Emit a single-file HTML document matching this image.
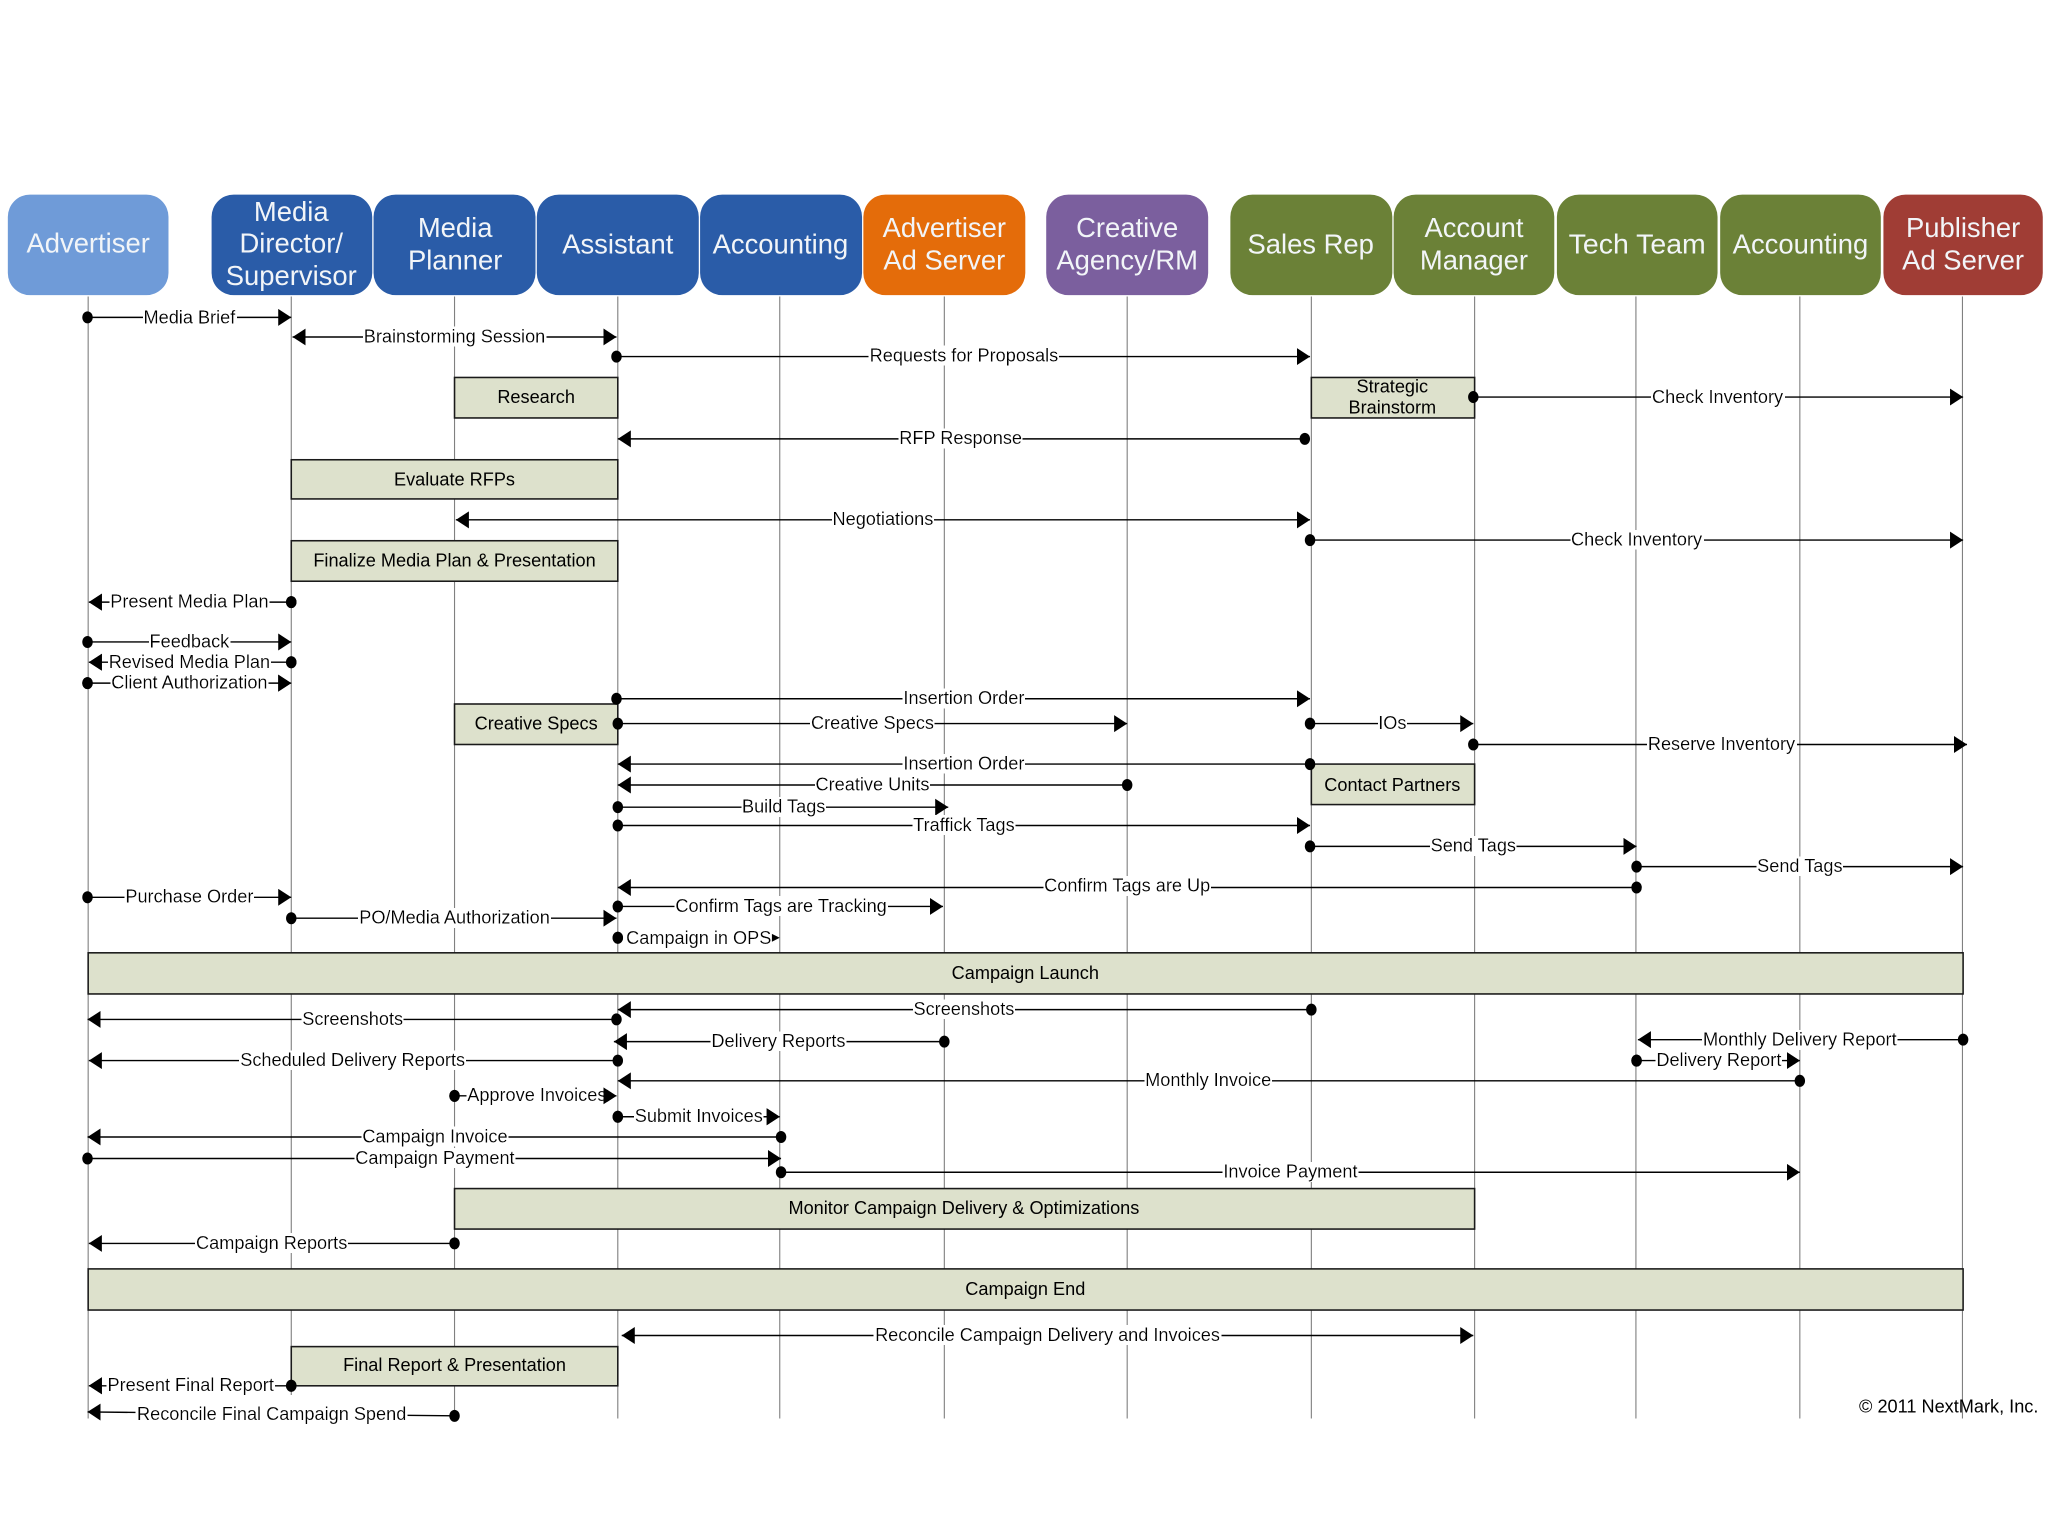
<!DOCTYPE html>
<html><head><meta charset="utf-8"><style>
html,body{margin:0;padding:0;background:#fff;width:2048px;height:1536px;overflow:hidden}
svg{display:block;filter:blur(.35px)}
text{font-family:"Liberation Sans",sans-serif;text-anchor:middle;dominant-baseline:central}
.h text{font-size:21px;fill:#f2f5f8}
.l{stroke:#808080;stroke-width:.85;fill:none}
.c{stroke:#000;stroke-width:1.1;fill:none;marker-start:url(#d);marker-end:url(#a)}
.r{marker-start:url(#a);marker-end:url(#d)}
.b{marker-start:url(#a);marker-end:url(#a)}
.m{stroke:none}
.t{font-size:13.9px;fill:#000;filter:url(#bg)}
.x{fill:#dde1cc;stroke:#1a1a1a;stroke-width:1.2}
.n{font-size:13.9px;fill:#000}
</style></head><body>
<svg xmlns="http://www.w3.org/2000/svg" width="2048" height="1536" viewBox="0 0 1568 1176">
<defs>
<filter id="bg" x="-0.004" y="0.03" width="1.008" height="0.97"><feFlood flood-color="#fff"/><feComposite in="SourceGraphic"/></filter>
<marker id="a" markerUnits="userSpaceOnUse" markerWidth="12" markerHeight="14" refX="10" refY="6.5" orient="auto-start-reverse"><path d="M0 0L10 6.5L0 13Z" fill="#000"/></marker>
<marker id="d" markerUnits="userSpaceOnUse" markerWidth="10" markerHeight="12" refX="4.5" refY="5.5" orient="0"><ellipse cx="4.5" cy="5.5" rx="4" ry="4.6" fill="#000"/></marker>
</defs>
<rect width="1568" height="1176" fill="#fff"/>
<path class="l" d="M67.5 227V1086M223 227V1068M348 227V1086M473 227V1086M597 227V1086M723 227V1086M863 227V1086M1004 227V1086M1129 227V1086M1252.5 227V1086M1378 227V1086M1502.5 227V1086"/>
<g class="h">
<rect x="6" y="149" width="123" height="77" rx="17" fill="#6f9bd8"/><text x="67.500" y="186">Advertiser</text>
<rect x="162" y="149" width="123" height="77" rx="17" fill="#2a5ca8"/><text x="223" y="162">Media</text><text x="223" y="186">Director/</text><text x="223" y="211">Supervisor</text>
<rect x="286" y="149" width="124" height="77" rx="17" fill="#2a5ca8"/><text x="348.500" y="174">Media</text><text x="348.500" y="199">Planner</text>
<rect x="411" y="149" width="124" height="77" rx="17" fill="#2a5ca8"/><text x="473" y="187">Assistant</text>
<rect x="536" y="149" width="124" height="77" rx="17" fill="#2a5ca8"/><text x="597.500" y="187">Accounting</text>
<rect x="661" y="149" width="124" height="77" rx="17" fill="#e46c0a"/><text x="723" y="174">Advertiser</text><text x="723" y="199">Ad Server</text>
<rect x="801" y="149" width="124" height="77" rx="17" fill="#7b5f9e"/><text x="863" y="174">Creative</text><text x="863" y="199">Agency/RM</text>
<rect x="942" y="149" width="124" height="77" rx="17" fill="#6b8137"/><text x="1003.500" y="187">Sales Rep</text>
<rect x="1067" y="149" width="123" height="77" rx="17" fill="#6b8137"/><text x="1128.500" y="174">Account</text><text x="1128.500" y="199">Manager</text>
<rect x="1192" y="149" width="123" height="77" rx="17" fill="#6b8137"/><text x="1253.500" y="187" textLength="105" lengthAdjust="spacingAndGlyphs">Tech Team</text>
<rect x="1317" y="149" width="123" height="77" rx="17" fill="#6b8137"/><text x="1378.500" y="187">Accounting</text>
<rect x="1442" y="149" width="122" height="77" rx="17" fill="#a03d35"/><text x="1503" y="174">Publisher</text><text x="1503" y="199">Ad Server</text>
</g>
<rect class="x" x="348" y="289" width="125" height="31"/><text class="n" x="410.500" y="304">Research</text>
<rect class="x" x="1004" y="289" width="125" height="31"/><text class="n" x="1066" y="296">Strategic</text><text class="n" x="1066" y="312">Brainstorm</text>
<rect class="x" x="223" y="352" width="250" height="30"/><text class="n" x="348" y="367">Evaluate RFPs</text>
<rect class="x" x="223" y="414" width="250" height="31"/><text class="n" x="348" y="429">Finalize Media Plan &amp; Presentation</text>
<rect class="x" x="348" y="539" width="125" height="31"/><text class="n" x="410.500" y="554">Creative Specs</text>
<rect class="x" x="1004" y="585" width="125" height="31"/><text class="n" x="1066" y="601">Contact Partners</text>
<rect class="x" x="67.500" y="729.500" width="1435.500" height="31.500"/><text class="n" x="785" y="745">Campaign Launch</text>
<rect class="x" x="348" y="910" width="781" height="31"/><text class="n" x="738" y="925">Monitor Campaign Delivery &amp; Optimizations</text>
<rect class="x" x="67.500" y="971.500" width="1435.500" height="31.500"/><text class="n" x="785" y="987">Campaign End</text>
<rect class="x" x="223" y="1031" width="250" height="30"/><text class="n" x="348" y="1045">Final Report &amp; Presentation</text>

<path class="c" d="M67 243H223"/><text class="t" x="145" y="243">Media Brief</text>
<path class="c b" d="M224 258H472"/><text class="t" x="348" y="257.500">Brainstorming Session</text>
<path class="c" d="M472 273H1003"/><text class="t" x="738" y="272">Requests for Proposals</text>
<path class="c" d="M1128 304H1503"/><text class="t" x="1315" y="304">Check Inventory</text>
<path class="c r" d="M473 336H999"/><text class="t" x="735.500" y="335.500">RFP Response</text>
<path class="c b" d="M349 398H1003"/><text class="t" x="676" y="397.500">Negotiations</text>
<path class="c" d="M1003 413.500H1503"/><text class="t" x="1253" y="413">Check Inventory</text>
<path class="c r" d="M68 461H223"/><text class="t" x="145" y="460.500">Present Media Plan</text>
<path class="c" d="M67 491.500H223"/><text class="t" x="145" y="491">Feedback</text>
<path class="c r" d="M68 507H223"/><text class="t" x="145" y="507">Revised Media Plan</text>
<path class="c" d="M67 523H223"/><text class="t" x="145" y="522.500">Client Authorization</text>
<path class="c" d="M472 535H1003"/><text class="t" x="738" y="534.500">Insertion Order</text>
<path class="c" d="M473 554H863"/><text class="t" x="668" y="553.500">Creative Specs</text>
<path class="c" d="M1003 554H1128"/><text class="t" x="1066" y="553.500">IOs</text>
<path class="c" d="M1128 570H1506"/><text class="t" x="1318" y="569.500">Reserve Inventory</text>
<path class="c r" d="M473 585H1003"/><text class="t" x="738" y="584.500">Insertion Order</text>
<path class="c r" d="M473 601H863"/><text class="t" x="668" y="600.500">Creative Units</text>
<path class="c" d="M473 618H726"/><text class="t" x="600" y="617.500">Build Tags</text>
<path class="c" d="M473 632H1003"/><text class="t" x="738" y="631.500">Traffick Tags</text>
<path class="c" d="M1003 648H1253"/><text class="t" x="1128" y="647.500">Send Tags</text>
<path class="c" d="M1253 663.500H1503"/><text class="t" x="1378" y="663">Send Tags</text>
<path class="c r" d="M473 679.500H1253"/><text class="t" x="863" y="678">Confirm Tags are Up</text>
<path class="c" d="M67 687H223"/><text class="t" x="145" y="686.500">Purchase Order</text>
<path class="c" d="M473 694H722"/><text class="t" x="598" y="693.500">Confirm Tags are Tracking</text>
<path class="c" d="M223 703H472"/><text class="t" x="348" y="702.500">PO/Media Authorization</text>
<path class="c r m" d="M473 718H473" style="marker-start:none"/><text class="t" x="535" y="718">Campaign in OPS</text>
<path class="c r" d="M473 773H1004"/><text class="t" x="738" y="772.500">Screenshots</text>
<path class="c r" d="M67 780.500H472"/><text class="t" x="270" y="780">Screenshots</text>
<path class="c r" d="M470 797.500H723"/><text class="t" x="596" y="797">Delivery Reports</text>
<path class="c r" d="M1254 796H1503"/><text class="t" x="1378" y="796">Monthly Delivery Report</text>
<path class="c r" d="M68 812H473"/><text class="t" x="270" y="811.500">Scheduled Delivery Reports</text>
<path class="c" d="M1253 812H1378"/><text class="t" x="1316" y="811.500">Delivery Report</text>
<path class="c r" d="M473 827.500H1378"/><text class="t" x="925" y="827">Monthly Invoice</text>
<path class="c" d="M348 839H472"/><text class="t" x="411" y="838.500">Approve Invoices</text>
<path class="c" d="M473 855H597"/><text class="t" x="535" y="854.500">Submit Invoices</text>
<path class="c r" d="M67 870.500H598"/><text class="t" x="333" y="870">Campaign Invoice</text>
<path class="c" d="M67 887H598"/><text class="t" x="333" y="886.500">Campaign Payment</text>
<path class="c" d="M598 897.500H1378"/><text class="t" x="988" y="897">Invoice Payment</text>
<path class="c r" d="M68 952H348"/><text class="t" x="208" y="951.500">Campaign Reports</text>
<path class="c b" d="M476 1022.500H1128"/><text class="t" x="802" y="1022">Reconcile Campaign Delivery and Invoices</text>
<path class="c r" d="M68 1061H223"/><text class="t" x="146" y="1060.500">Present Final Report</text>
<path class="c r" d="M67 1081L348 1084"/><text class="t" x="208" y="1082.500">Reconcile Final Campaign Spend</text>

<path class="c r m" d="M68 461H223"/>
<path class="c r m" d="M68 507H223"/>
<path class="c m" d="M67 523H223"/>
<path d="M591 715L597 718L591 721Z" fill="#000"/>
<ellipse cx="473" cy="718" rx="4" ry="4.6" fill="#000"/>
<path class="c m" d="M1253 812H1378"/>
<path class="c m" d="M348 839H472"/>
<path class="c m" d="M473 855H597"/>
<path class="c r m" d="M68 1061H223"/>
<text class="n" x="1492" y="1077">© 2011 NextMark, Inc.</text>
</svg>
</body></html>
